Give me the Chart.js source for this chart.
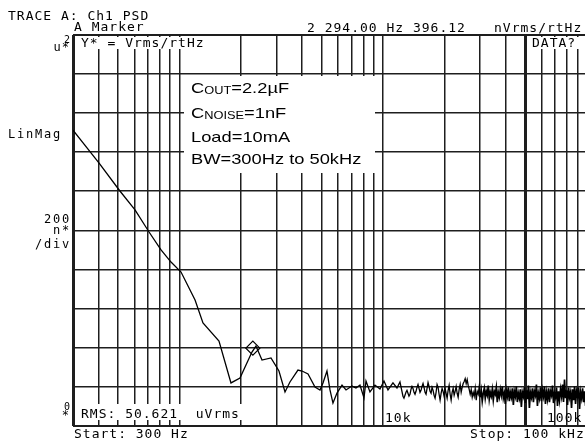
<!DOCTYPE html>
<html>
<head>
<meta charset="utf-8">
<script src="https://cdn.jsdelivr.net/npm/chart.js@4.4.1/dist/chart.umd.min.js"></script>
<style>
html,body{margin:0;padding:0;background:#fff;overflow:hidden;}
canvas{display:block;}
</style>
</head>
<body>
<canvas id="psd" width="600" height="447"></canvas>
<script>
// trace, Hz / nVrms/rtHz
const traceFreq = [300, 403, 510, 605, 709, 812, 909, 1018, 1193, 1305,
  1564, 1791, 1983, 2271, 2376, 2544, 2816, 3082, 3300, 3490,
  3821, 4000, 4281, 4632, 4902, 5071, 5305, 5489, 5677, 5941,
  6288, 6580, 7038, 7365, 7705, 8063, 8248, 8628, 9129, 9660,
  10108, 10577, 11190, 11708, 12113];
const traceValue = [1513, 1344, 1201, 1104, 991, 899, 837, 786, 643, 525,
  433, 218, 243, 376, 407, 335, 346, 279, 172, 223,
  284, 279, 264, 197, 182, 218, 279, 182, 115, 166,
  207, 182, 202, 192, 207, 141, 228, 172, 207, 187,
  228, 182, 218, 192, 223];

// noisy tail, one reading per sweep point from noiseStart to noiseStop
const noiseStart = 12530;
const noiseStop = 100000;
const noiseValue = [
  150, 140, 155, 170, 180, 165, 150, 160, 185, 200,
  190, 170, 160, 175, 195, 210, 190, 170, 180, 200,
  215, 195, 170, 160, 190, 220, 200, 175, 165, 195,
  180, 155, 140, 170, 210, 195, 160, 130, 165, 190,
  175, 150, 190, 165, 140, 180, 205, 160, 130, 170,
  190, 155, 175, 200, 165, 145, 185, 210, 170, 195,
  215, 225, 240, 215, 235, 205, 185, 160, 185, 145,
  170, 150, 190, 130, 175, 160, 200, 145, 180, 125,
  165, 190, 140, 175, 155, 205, 135, 170, 150, 185,
  130, 175, 160, 195, 120, 170, 145, 185, 155, 200,
  140, 165, 110, 180, 150, 195, 125, 170, 145, 190,
  105, 175, 150, 200, 120, 165, 140, 185, 95, 170,
  150, 195, 115, 180, 135, 205, 90, 170, 145, 190,
  120, 175, 155, 210, 100, 165, 140, 195, 125, 180,
  150, 200, 110, 170, 135, 190, 120, 175, 155, 205,
  115, 165, 145, 195, 100, 175, 130, 185, 150, 210,
  120, 235, 140, 180, 105, 195, 145, 170, 90, 185,
  130, 200, 110, 175, 150, 195, 85, 170, 140, 190,
  120, 175, 100, 160];

const freqTicks = [300, 400, 500, 600, 700, 800, 900,
  1000, 2000, 3000, 4000, 5000, 6000, 7000, 8000, 9000,
  10000, 20000, 30000, 40000, 50000, 60000, 70000, 80000, 90000, 100000];
const levelTicks = [0, 200, 400, 600, 800, 1000, 1200, 1400, 1600, 1800, 2000];

const markerFreq = 2294;
const markerValue = 396.12;
const bwStop = 50000;

// build point list
let points = traceFreq.map((f, i) => ({x: f, y: traceValue[i]}));
const n = noiseValue.length;
noiseValue.forEach((v, i) => {
  const f = noiseStart * Math.pow(noiseStop / noiseStart, i / (n - 1));
  points.push({x: f, y: v});
});

function mono(c, size, sp) {
  c.font = size + 'px "DejaVu Sans Mono"';
  c.letterSpacing = sp + 'px';
}

// draws a run of text pieces, each with its own size, stretched sideways
function stretched(c, x, y, parts) {
  c.save();
  c.translate(x, y);
  c.scale(1.22, 1);
  c.letterSpacing = '0px';
  let cx = 0;
  parts.forEach(p => {
    c.font = p[1] + 'px "Liberation Sans"';
    c.fillText(p[0], cx, p[2] || 0);
    cx += c.measureText(p[0]).width;
  });
  c.restore();
}

const screenText = {
  id: 'screenText',
  afterDraw(chart) {
    const c = chart.ctx;
    c.save();
    // white boxes hide the graticule behind labels
    c.fillStyle = '#fff';
    c.fillRect(76, 37, 131, 12);
    c.fillRect(528, 37, 60, 12);
    c.fillRect(77, 404, 166, 16);
    c.fillRect(184, 76, 191, 97);

    c.fillStyle = '#000';
    c.textBaseline = 'alphabetic';
    c.textAlign = 'left';
    mono(c, 13, 1);
    c.fillText('TRACE A: Ch1 PSD', 8, 20);
    c.fillText('A Marker', 74, 31);
    c.fillText('2 294.00 Hz 396.12', 307, 32);
    c.fillText('nVrms/rtHz', 494, 32);
    c.fillText('Y* = Vrms/rtHz', 81, 47);
    c.fillText('DATA?', 532, 47);
    c.fillText('RMS: 50.621  uVrms', 81, 418);
    c.fillText('10k', 385, 422);
    c.fillText('100k', 547, 422);
    c.fillText('Start: 300 Hz', 74, 438);
    c.fillText('Stop: 100 kHz', 470, 438);

    mono(c, 12, 1.8);
    c.fillText('LinMag', 8, 138);
    c.textAlign = 'right';
    c.fillText('200', 71, 223);
    c.fillText('n*', 71, 234);
    c.fillText('/div', 71, 248);
    mono(c, 12, 1);
    c.fillText('u*', 70, 51);
    c.fillText('*', 70, 419);
    mono(c, 10, 0);
    c.fillText('2', 70, 43);
    c.fillText('0', 70, 410);

    c.textAlign = 'left';
    stretched(c, 191, 93, [['C', 15], ['OUT', 10.5, 1], ['=2.2\u00b5F', 15]]);
    stretched(c, 191, 118, [['C', 15], ['NOISE', 10.5, 1], ['=1nF', 15]]);
    stretched(c, 191, 142, [['Load=10mA', 15]]);
    stretched(c, 191, 164, [['BW=300Hz to 50kHz', 15]]);
    c.restore();
  }
};

new Chart(document.getElementById('psd'), {
  type: 'line',
  data: {
    datasets: [
      {
        data: points,
        borderColor: '#000',
        borderWidth: 1.3,
        pointRadius: 0,
        tension: 0,
        segment: {
          // the tail is drawn heavier, like the dense trace on screen
          borderWidth: ctx => ctx.p0.parsed.x > 30000 ? 1.7 : 1.3
        }
      },
      {
        data: [{x: markerFreq, y: markerValue}],
        showLine: false,
        pointStyle: 'rectRot',
        pointRadius: 7,
        pointBorderColor: '#000',
        pointBackgroundColor: 'rgba(0,0,0,0)',
        pointBorderWidth: 1.2
      }
    ]
  },
  options: {
    responsive: false,
    animation: false,
    layout: {padding: {left: 73, right: 13.4, top: 35, bottom: 21.5}},
    plugins: {legend: {display: false}, tooltip: {enabled: false}},
    scales: {
      x: {
        type: 'logarithmic',
        min: 300,
        max: 100000,
        afterBuildTicks: s => { s.ticks = freqTicks.map(v => ({value: v})); },
        ticks: {display: false},
        border: {display: false},
        grid: {
          drawTicks: false,
          color: '#1e1e1e',
          lineWidth: ctx => (ctx.tick && (ctx.tick.value === 300 || ctx.tick.value === bwStop)) ? 3 : 1.5
        }
      },
      y: {
        min: 0,
        max: 2000,
        afterBuildTicks: s => { s.ticks = levelTicks.map(v => ({value: v})); },
        ticks: {display: false},
        border: {display: false},
        grid: {
          drawTicks: false,
          color: '#1e1e1e',
          lineWidth: ctx => (ctx.tick && (ctx.tick.value === 0 || ctx.tick.value === 2000)) ? 2 : 1.5
        }
      }
    }
  },
  plugins: [screenText]
});
</script>
</body>
</html>
